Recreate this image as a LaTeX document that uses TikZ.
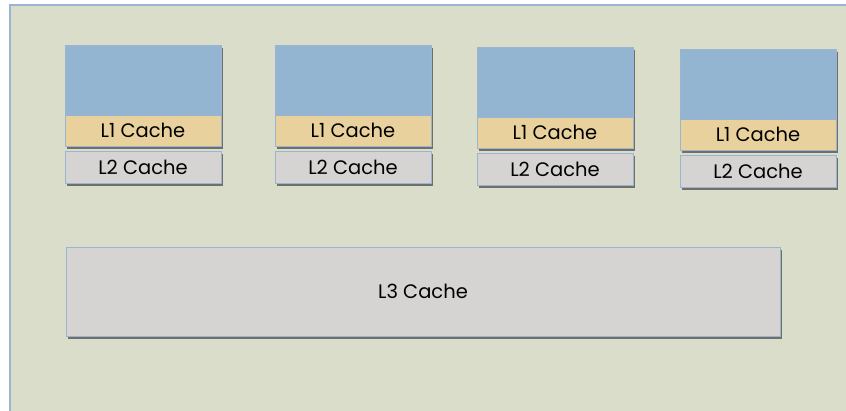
\documentclass[tikz,border=0pt]{standalone}
\usepackage{fontspec}
\setmainfont{Poppins}
\usetikzlibrary{shadows,calc}
\definecolor{bgpanel}{HTML}{DBDDCB}
\definecolor{edgeblue}{HTML}{9BB5D0}
\definecolor{corefill}{HTML}{94B5D2}
\definecolor{lonefill}{HTML}{E8D19D}
\definecolor{cachegray}{HTML}{D6D3D3}
\tikzset{
  box/.style={draw=edgeblue, line width=1pt, inner sep=0pt, outer sep=0pt,
    drop shadow={shadow xshift=1.5pt, shadow yshift=-2.6pt, fill=black!70, opacity=0.75},
    font=\fontsize{19.5}{22}\selectfont, text=black},
  core/.style={box, fill=corefill, minimum width=156pt, minimum height=70pt, anchor=north west},
  lone/.style={box, fill=lonefill, minimum width=156pt, minimum height=31pt, anchor=north west},
  ltwo/.style={box, fill=cachegray, minimum width=156pt, minimum height=32pt, anchor=north west},
  lthree/.style={box, fill=cachegray, minimum width=714pt, minimum height=89pt, anchor=north west},
}
\begin{document}
\begin{tikzpicture}[x=1pt, y=-1pt]
  \useasboundingbox (0,0) rectangle (846,410);
  \fill[white] (0,0) rectangle (846,410);
  % enclosing chip panel
  \begin{scope}
    \clip (0,0) rectangle (846,410);
    \draw[edgeblue, line width=1.2pt, fill=bgpanel] (10,5) rectangle (860,420);
  \end{scope}
  % four cores, each with private L1 and L2
  \foreach \i/\x/\y in {1/65/45, 2/275/45, 3/477/47, 4/680/49} {
    \node[core] (core\i) at (\x,\y) {};
    \node[lone] (lone\i) at ($(\x,\y)+(0,70)$) {L1 Cache};
    \node[ltwo] (ltwo\i) at ($(\x,\y)+(0,106)$) {L2 Cache};
  }
  % shared last-level cache
  \node[lthree] (lthree) at (66,247) {L3 Cache};
\end{tikzpicture}
\end{document}
